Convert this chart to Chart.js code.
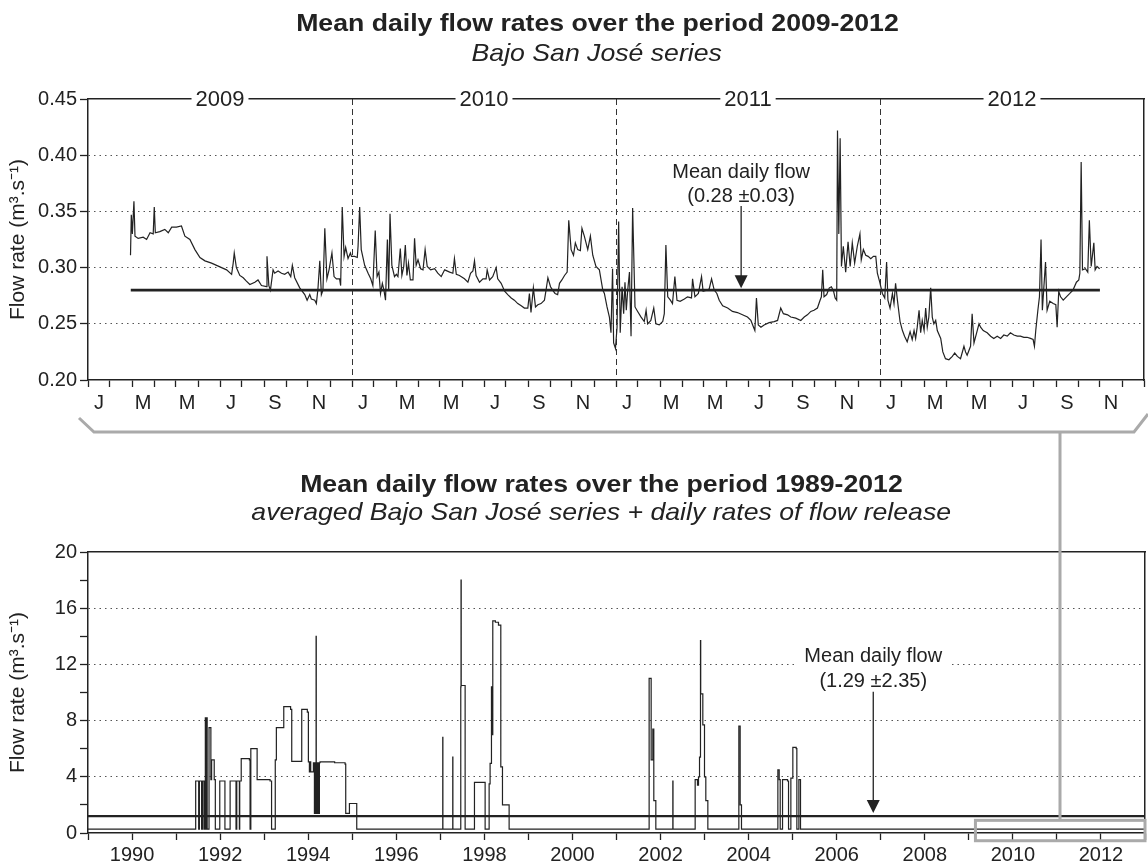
<!DOCTYPE html>
<html><head><meta charset="utf-8">
<script src="https://cdn.jsdelivr.net/npm/chart.js@4.4.1/dist/chart.umd.min.js"></script>
<style>
html,body{margin:0;padding:0;background:#fff;}
#wrap{position:relative;width:1148px;height:866px;overflow:hidden;font-family:"Liberation Sans",Arial,sans-serif;color:#222;}
canvas{position:absolute;left:0;}
#c1{top:0}
#c2{top:440px}
.t{position:absolute;left:0;text-align:center;white-space:nowrap;font-size:24px;line-height:24px;}
.t span{display:inline-block;transform:scaleX(1.11);}
.b{font-weight:bold}
.i{font-style:italic}
svg{position:absolute;left:0;top:0;pointer-events:none}
</style></head>
<body>
<div id="wrap">
<canvas id="c1" width="1148" height="425"></canvas>
<canvas id="c2" width="1148" height="426"></canvas>
<div class="t b" style="top:11px;width:1194px"><span>Mean daily flow rates over the period 2009-2012</span></div>
<div class="t i" style="top:41px;width:1194px"><span>Bajo San José series</span></div>
<div class="t b" style="top:472px;width:1202px"><span>Mean daily flow rates over the period 1989-2012</span></div>
<div class="t i" style="top:500px;width:1202px"><span>averaged Bajo San José series + daily rates of flow release</span></div>
<svg width="1148" height="866">
<polyline points="79,418 94,432 1134,432 1148,414" fill="none" stroke="#aaa" stroke-width="3"/>
<line x1="1060" y1="432" x2="1060" y2="820" stroke="#aaa" stroke-width="3"/>
</svg>
</div>
<script>
// ---------- DATA ----------
// Top panel: Bajo San José daily series 2009-2012 (decimal year, m3/s)
const topYears = [
2009.161,2009.164,2009.168,2009.174,2009.178,2009.190,2009.209,2009.222,2009.235,2009.247,2009.251,2009.255,2009.272,2009.291,2009.304,2009.317,2009.335,2009.354,2009.367,2009.386,2009.405,2009.424,2009.443,2009.468,2009.487,2009.506,2009.525,2009.544,2009.550,2009.554,2009.562,2009.575,2009.588,2009.600,2009.613,2009.632,2009.644,2009.657,2009.676,2009.678,2009.685,2009.691,2009.701,2009.707,2009.720,2009.733,2009.745,2009.758,2009.768,2009.774,2009.783,2009.802,2009.821,2009.830,2009.840,2009.846,2009.859,2009.865,2009.871,2009.878,2009.884,2009.890,2009.897,2009.905,2009.913,2009.924,2009.932,2009.941,2009.953,2009.957,2009.963,2009.970,2009.976,2009.985,2009.994,
2009.998,2010.010,2010.020,2010.023,2010.029,2010.035,2010.048,2010.061,2010.071,2010.079,2010.088,2010.095,2010.102,2010.108,2010.115,2010.121,2010.127,2010.134,2010.139,2010.144,2010.151,2010.161,2010.168,2010.174,2010.183,2010.189,2010.196,2010.202,2010.208,2010.214,2010.221,2010.231,2010.237,2010.243,2010.250,2010.260,2010.269,2010.277,2010.285,2010.298,2010.313,2010.325,2010.338,2010.351,2010.370,2010.382,2010.388,2010.395,2010.407,2010.426,2010.439,2010.449,2010.458,2010.464,2010.470,2010.483,2010.496,2010.508,2010.512,2010.521,2010.533,2010.546,2010.552,2010.565,2010.578,2010.590,2010.603,2010.615,2010.628,2010.641,2010.653,2010.666,2010.672,2010.678,2010.687,2010.695,2010.704,2010.716,2010.729,2010.735,2010.742,2010.752,2010.760,2010.769,2010.779,2010.786,2010.795,2010.805,2010.815,2010.821,2010.830,2010.839,2010.846,2010.855,2010.865,2010.871,2010.880,2010.893,2010.903,2010.912,2010.924,2010.937,2010.950,
2010.956,2010.966,2010.975,2010.981,2010.987,2010.991,2010.998,2011.004,2011.010,2011.016,2011.023,2011.029,2011.034,2011.039,2011.044,2011.051,2011.057,2011.063,2011.072,2011.082,2011.095,2011.107,2011.114,2011.120,2011.132,2011.143,2011.151,2011.164,2011.177,2011.183,2011.189,2011.196,2011.206,2011.214,2011.223,2011.231,2011.243,2011.259,2011.271,2011.286,2011.290,2011.299,2011.312,2011.324,2011.330,2011.343,2011.353,2011.362,2011.372,2011.382,2011.391,2011.404,2011.423,2011.441,2011.460,2011.479,2011.498,2011.511,2011.521,2011.526,2011.532,2011.539,2011.549,2011.561,2011.580,2011.599,2011.612,2011.624,2011.634,2011.650,2011.662,2011.681,2011.700,2011.713,2011.725,2011.738,2011.750,2011.763,2011.773,2011.778,2011.783,2011.788,2011.798,2011.808,2011.816,2011.824,2011.830,2011.836,2011.839,2011.844,2011.849,2011.854,2011.861,2011.870,2011.879,2011.887,2011.895,2011.904,2011.914,2011.924,2011.929,2011.937,2011.946,2011.955,2011.965,
2011.975,2011.984,2011.990,2011.999,2012.009,2012.018,2012.025,2012.030,2012.038,2012.047,2012.053,2012.059,2012.066,2012.076,2012.085,2012.093,2012.103,2012.114,2012.122,2012.129,2012.135,2012.141,2012.148,2012.154,2012.160,2012.167,2012.173,2012.179,2012.185,2012.192,2012.198,2012.204,2012.211,2012.217,2012.230,2012.238,2012.248,2012.261,2012.274,2012.283,2012.293,2012.305,2012.318,2012.324,2012.330,2012.343,2012.349,2012.356,2012.366,2012.375,2012.381,2012.391,2012.406,2012.419,2012.431,2012.444,2012.457,2012.469,2012.482,2012.494,2012.507,2012.520,2012.532,2012.545,2012.557,2012.570,2012.580,2012.585,2012.590,2012.598,2012.604,2012.610,2012.615,2012.620,2012.627,2012.633,2012.643,2012.656,2012.666,2012.671,2012.677,2012.684,2012.694,2012.706,2012.719,2012.731,2012.744,2012.753,2012.757,2012.762,2012.767,2012.778,2012.787,2012.793,2012.800,2012.810,2012.815,2012.822,2012.832
];
const topFlow = [
0.311,0.347,0.330,0.359,0.328,0.326,0.327,0.325,0.331,0.330,0.354,0.331,0.332,0.334,0.331,0.336,0.336,0.337,0.328,0.325,0.316,0.309,0.306,0.304,0.302,0.300,0.298,0.294,0.304,0.313,0.300,0.293,0.291,0.288,0.285,0.287,0.289,0.284,0.283,0.310,0.284,0.280,0.298,0.295,0.297,0.295,0.294,0.296,0.292,0.302,0.291,0.282,0.276,0.271,0.276,0.272,0.271,0.268,0.281,0.306,0.276,0.280,0.335,0.290,0.298,0.313,0.292,0.290,0.290,0.284,0.354,0.310,0.318,0.308,0.313,
0.310,0.310,0.309,0.319,0.354,0.316,0.302,0.295,0.290,0.284,0.333,0.292,0.296,0.277,0.286,0.280,0.271,0.325,0.280,0.348,0.302,0.292,0.294,0.292,0.317,0.293,0.301,0.320,0.293,0.304,0.289,0.289,0.326,0.302,0.307,0.299,0.298,0.316,0.301,0.298,0.299,0.295,0.292,0.298,0.296,0.295,0.308,0.294,0.293,0.290,0.287,0.295,0.297,0.306,0.293,0.287,0.290,0.290,0.298,0.289,0.292,0.300,0.290,0.286,0.279,0.276,0.273,0.271,0.268,0.266,0.264,0.264,0.277,0.260,0.282,0.265,0.267,0.268,0.271,0.280,0.291,0.283,0.280,0.277,0.276,0.286,0.289,0.293,0.296,0.342,0.316,0.311,0.322,0.316,0.315,0.335,0.328,0.316,0.328,0.311,0.301,0.298,0.280,
0.277,0.265,0.256,0.242,0.299,0.233,0.228,0.247,0.341,0.242,0.283,0.259,0.287,0.262,0.279,0.296,0.239,0.353,0.265,0.261,0.256,0.252,0.262,0.250,0.253,0.264,0.250,0.249,0.252,0.259,0.320,0.274,0.271,0.268,0.292,0.271,0.270,0.272,0.274,0.273,0.290,0.274,0.277,0.292,0.279,0.280,0.281,0.290,0.280,0.277,0.271,0.266,0.264,0.261,0.260,0.258,0.256,0.253,0.247,0.244,0.273,0.249,0.247,0.249,0.251,0.252,0.253,0.264,0.259,0.258,0.256,0.255,0.253,0.256,0.258,0.261,0.262,0.264,0.271,0.274,0.298,0.274,0.276,0.282,0.283,0.279,0.273,0.271,0.422,0.330,0.415,0.301,0.319,0.296,0.323,0.301,0.322,0.304,0.319,0.330,0.307,0.316,0.311,0.310,0.308,
0.310,0.310,0.295,0.287,0.277,0.273,0.305,0.271,0.264,0.277,0.268,0.286,0.271,0.252,0.244,0.239,0.234,0.243,0.236,0.244,0.237,0.247,0.262,0.242,0.253,0.244,0.264,0.247,0.256,0.282,0.256,0.250,0.253,0.244,0.237,0.225,0.219,0.218,0.221,0.224,0.221,0.219,0.230,0.225,0.222,0.230,0.259,0.233,0.242,0.250,0.247,0.244,0.242,0.239,0.237,0.239,0.237,0.240,0.239,0.242,0.240,0.239,0.239,0.238,0.238,0.237,0.236,0.230,0.244,0.262,0.274,0.325,0.262,0.280,0.305,0.262,0.270,0.268,0.267,0.247,0.279,0.274,0.271,0.274,0.277,0.280,0.287,0.289,0.295,0.394,0.298,0.299,0.296,0.342,0.301,0.322,0.298,0.301,0.299
];
const topMean = 0.28;
const topMeanSpan = [2009.162, 2012.833];
const topMeanNote = ['Mean daily flow', '(0.28 \u00B10.03)'];

// Bottom panel: averaged series + flow releases 1989-2012 (step changes: decimal year, m3/s)
const bottomYears = [
1989.000,1991.445,1991.513,1991.529,1991.580,1991.605,1991.639,1991.664,1991.680,1991.688,1991.706,1991.748,1991.790,1991.807,1991.866,1991.891,1991.992,1992.109,1992.227,1992.361,1992.378,1992.437,1992.445,1992.479,1992.664,1992.680,1992.697,1992.840,1993.134,1993.168,1993.252,1993.277,1993.445,1993.600,1993.626,1993.853,1993.980,1994.004,1994.027,1994.040,1994.057,1994.118,1994.141,1994.150,1994.158,1994.166,1994.174,1994.179,1994.183,1994.190,1994.198,1994.206,1994.214,1994.222,1994.230,1994.238,1994.246,1994.254,1994.269,1994.600,1994.837,1994.852,1994.936,1995.102,
1997.055,1997.058,1997.282,1997.285,1997.464,1997.470,1997.474,1997.563,1997.775,1998.017,1998.108,1998.130,1998.161,1998.166,1998.172,1998.180,1998.191,1998.250,1998.320,1998.373,1998.411,1998.562,
2001.741,2001.787,2001.825,2001.847,2001.893,2002.279,2002.283,2002.786,2002.839,2002.862,2002.885,2002.907,2002.912,2002.960,2002.998,2003.028,2003.074,2003.778,2003.808,2003.838,
2004.664,2004.694,2004.717,2004.770,2004.883,2004.906,2004.959,2005.004,2005.080,2005.095,2005.141,2005.178,2013.000
];
const bottomFlow = [
0.28,3.7,0.28,3.7,0.28,3.7,0.28,8.2,0.28,8.2,0.28,7.5,3.8,5.2,3.8,0.28,3.7,0.28,3.7,0.28,3.7,0.28,3.7,5.3,5.2,0.28,6.0,3.8,3.7,0.28,5.2,7.5,9.0,8.8,5.1,8.8,8.6,5.06,4.35,5.06,4.35,5.0,1.4,5.0,1.4,5.0,1.4,14.0,1.4,5.0,1.4,5.0,1.4,5.0,1.4,5.0,1.4,5.0,5.06,5.0,4.9,1.4,2.1,0.28,
6.8,0.28,5.4,0.28,10.4,18.0,10.5,0.28,3.6,0.28,3.5,4.95,10.4,7.0,10.4,7.0,15.1,15.0,14.8,4.7,2.0,0.28,
11.0,5.2,7.4,2.3,0.28,3.7,0.28,3.8,3.4,4.0,5.4,13.7,9.9,7.7,4.0,2.3,0.28,7.6,2.0,0.28,
4.5,3.8,0.28,3.8,3.7,0.28,3.9,6.1,6.0,0.28,3.8,0.28,0.28
];
const bottomMean = 1.2;
const bottomMeanNote = ['Mean daily flow', '(1.29 \u00B12.35)'];

// Tick labels
const topYearLabels = ['2009','2010','2011','2012'];
const monthLetters = ['J','M','M','J','S','N'];
const topYTicks = [0.20,0.25,0.30,0.35,0.40,0.45];
const bottomYearLabels = ['1990','1992','1994','1996','1998','2000','2002','2004','2006','2008','2010','2012'];
const bottomYTicks = [0,2,4,6,8,10,12,14,16,18,20];
const bottomYLabels = ['0','','4','','8','','12','','16','','20'];
const yTitle = 'Flow rate (m\u00B3.s\u207B\u00B9)';

// annotation anchors (data space)
const topNoteX = 2011.474, topNoteY = [0.3795, 0.3586], topArrow = [0.3548, 0.2816];
const botNoteX = 2006.83, botNoteY = [12.19, 10.41], botArrow = [10.05, 1.42];
const zoomBox = {x0: 2009.15, x1: 2013.0, y0: 0.9, y1: -0.55};

// ---------- STYLE ----------
const FONT = '"Liberation Sans", Arial, sans-serif';
const INK = '#222';
const CLEAR = 'rgba(0,0,0,0)';
Chart.defaults.font.family = FONT;
Chart.defaults.color = INK;

// top x ticks: month starts (marks) + mid-month letters (labels)
const topXTicks = [];
topYearLabels.forEach((yl, yi) => {
  const base = +yl;
  for (let m = 0; m < 12; m++) topXTicks.push({value: base + m / 12, kind: m === 0 ? (yi === 0 ? 'edge' : 'year') : 'month', lab: ''});
  monthLetters.forEach((L, k) => topXTicks.push({value: base + (2 * k + 0.5) / 12, kind: 'label', lab: L}));
});
topXTicks.push({value: 2013, kind: 'edge', lab: ''});
topXTicks.sort((a, b) => a.value - b.value);
const bottomXTicks = [];
for (let yr = 1989; yr <= 2013; yr++) bottomXTicks.push({value: yr, lab: bottomYearLabels.includes(String(yr)) ? String(yr) : ''});

function noteDraw(chart, nx, ny, arrow, lines) {
  const {ctx, scales: {x, y}} = chart;
  const ax = x.getPixelForValue(nx);
  ctx.save();
  ctx.font = '20px ' + FONT;
  ctx.textAlign = 'center';
  ctx.textBaseline = 'alphabetic';
  const w = Math.max(...lines.map(s => ctx.measureText(s).width));
  const yTop = y.getPixelForValue(ny[0]) - 18, yBot = y.getPixelForValue(ny[1]) + 5;
  ctx.fillStyle = '#fff';
  ctx.fillRect(ax - w / 2 - 7, yTop, w + 14, yBot - yTop);
  ctx.fillStyle = INK;
  lines.forEach((s, i) => ctx.fillText(s, ax, y.getPixelForValue(ny[i])));
  const y0 = y.getPixelForValue(arrow[0]), y1 = y.getPixelForValue(arrow[1]);
  ctx.strokeStyle = INK; ctx.lineWidth = 1.3;
  ctx.beginPath(); ctx.moveTo(ax, y0); ctx.lineTo(ax, y1 - 12); ctx.stroke();
  ctx.beginPath(); ctx.moveTo(ax - 6.5, y1 - 13); ctx.lineTo(ax + 6.5, y1 - 13); ctx.lineTo(ax, y1); ctx.closePath(); ctx.fill();
  ctx.restore();
}

// year labels sitting on the top frame line of the upper panel
function yearLabelsDraw(chart) {
  const {ctx, chartArea, scales: {x}} = chart;
  ctx.save();
  ctx.font = '22px ' + FONT;
  ctx.textAlign = 'center';
  ctx.textBaseline = 'middle';
  topYearLabels.forEach(yl => {
    const px = x.getPixelForValue(+yl + 0.5);
    const w = ctx.measureText(yl).width;
    ctx.fillStyle = '#fff';
    ctx.fillRect(px - w / 2 - 4, chartArea.top - 10, w + 8, 20);
    ctx.fillStyle = INK;
    ctx.fillText(yl, px, chartArea.top + 1);
  });
  ctx.restore();
}

const frameAxis = (pos) => ({
  type: 'linear', position: pos, display: true,
  afterFit: s => { if (pos === 'right') s.width = 0; else s.height = 0; },
  ticks: {display: false}, grid: {display: false, drawTicks: false},
  border: {display: true, color: INK, width: 1.5}
});

// ---------- TOP CHART ----------
new Chart(document.getElementById('c1'), {
  type: 'line',
  data: {datasets: [
    {data: topYears.map((t, i) => ({x: t, y: topFlow[i]})), borderColor: INK, borderWidth: 1.2, pointRadius: 0, tension: 0},
    {data: topMeanSpan.map(t => ({x: t, y: topMean})), borderColor: INK, borderWidth: 2.6, pointRadius: 0}
  ]},
  options: {
    responsive: false, animation: false, events: [],
    layout: {padding: {top: 99, left: 0, right: 3, bottom: 5}},
    plugins: {legend: {display: false}, tooltip: {enabled: false}},
    scales: {
      x: {
        type: 'linear', position: 'bottom', min: 2009, max: 2013,
        afterFit: s => { s.height = 40; },
        afterBuildTicks: s => { s.ticks = topXTicks.map(t => ({...t})); },
        ticks: {autoSkip: false, maxRotation: 0, padding: 4, font: {size: 20}, color: INK, callback: (v, i, ts) => ts[i].lab},
        grid: {color: c => (c.tick && c.tick.kind === 'year') ? '#333' : CLEAR, lineWidth: 1,
               tickLength: 7, tickWidth: 1.3, tickColor: c => (c.tick && c.tick.kind === 'label') ? CLEAR : INK},
        border: {display: true, color: INK, width: 1.5, dash: [6, 4]}
      },
      xTop: frameAxis('top'),
      y: {
        type: 'linear', position: 'left', min: 0.2, max: 0.45,
        afterFit: s => { s.width = 88; },
        afterBuildTicks: s => { s.ticks = topYTicks.map(v => ({value: v})); },
        ticks: {padding: 3, font: {size: 20}, color: INK, callback: v => v.toFixed(2)},
        grid: {color: c => (c.tick && c.tick.value > 0.201 && c.tick.value < 0.449) ? '#555' : CLEAR,
               tickLength: 8, tickWidth: 1.3, tickColor: INK},
        border: {display: true, color: INK, width: 1.5, dash: [1.5, 4]},
        title: {display: true, text: yTitle, font: {size: 21}, color: INK, padding: {top: 6, bottom: 0}}
      },
      yR: frameAxis('right')
    }
  },
  plugins: [{id: 'topNote', afterDatasetsDraw: ch => { noteDraw(ch, topNoteX, topNoteY, topArrow, topMeanNote); }},
            {id: 'yearLabels', afterDraw: ch => yearLabelsDraw(ch)}]
});

// ---------- BOTTOM CHART ----------
new Chart(document.getElementById('c2'), {
  type: 'line',
  data: {datasets: [
    {data: bottomYears.map((t, i) => ({x: t, y: bottomFlow[i]})), stepped: true, borderColor: INK, borderWidth: 1.2, pointRadius: 0},
    {data: [{x: 1989, y: bottomMean}, {x: 2013, y: bottomMean}], borderColor: INK, borderWidth: 2.2, pointRadius: 0}
  ]},
  options: {
    responsive: false, animation: false, events: [],
    layout: {padding: {top: 112, left: 0, right: 3, bottom: 5}},
    plugins: {legend: {display: false}, tooltip: {enabled: false}},
    scales: {
      x: {
        type: 'linear', position: 'bottom', min: 1989, max: 2013,
        afterFit: s => { s.height = 28; },
        afterBuildTicks: s => { s.ticks = bottomXTicks.map(t => ({...t})); },
        ticks: {autoSkip: false, maxRotation: 0, padding: 3, font: {size: 20}, color: INK, callback: (v, i, ts) => ts[i].lab},
        grid: {color: CLEAR, tickLength: 7, tickWidth: 1.3, tickColor: INK},
        border: {display: true, color: INK, width: 1.5}
      },
      xTop: frameAxis('top'),
      y: {
        type: 'linear', position: 'left', min: 0, max: 20,
        afterFit: s => { s.width = 88; },
        afterBuildTicks: s => { s.ticks = bottomYTicks.map(v => ({value: v})); },
        ticks: {padding: 3, font: {size: 20}, color: INK, callback: (v, i) => bottomYLabels[i]},
        grid: {color: c => (c.tick && c.tick.value % 4 === 0 && c.tick.value > 0 && c.tick.value < 20) ? '#555' : CLEAR,
               tickLength: 8, tickWidth: 1.3, tickColor: INK},
        border: {display: true, color: INK, width: 1.5, dash: [1.5, 4]},
        title: {display: true, text: yTitle, font: {size: 21}, color: INK, padding: {top: 6, bottom: 0}}
      },
      yR: frameAxis('right')
    }
  },
  plugins: [{id: 'botNote', afterDatasetsDraw: ch => {
    noteDraw(ch, botNoteX, botNoteY, botArrow, bottomMeanNote);
    const {ctx, scales: {x, y}} = ch;
    const l = x.getPixelForValue(zoomBox.x0), r = x.getPixelForValue(zoomBox.x1);
    const t = y.getPixelForValue(zoomBox.y0), b = y.getPixelForValue(zoomBox.y1);
    ctx.save(); ctx.strokeStyle = '#aaa'; ctx.lineWidth = 3; ctx.strokeRect(l, t, r - l, b - t); ctx.restore();
  }}]
});
</script>
</body></html>
